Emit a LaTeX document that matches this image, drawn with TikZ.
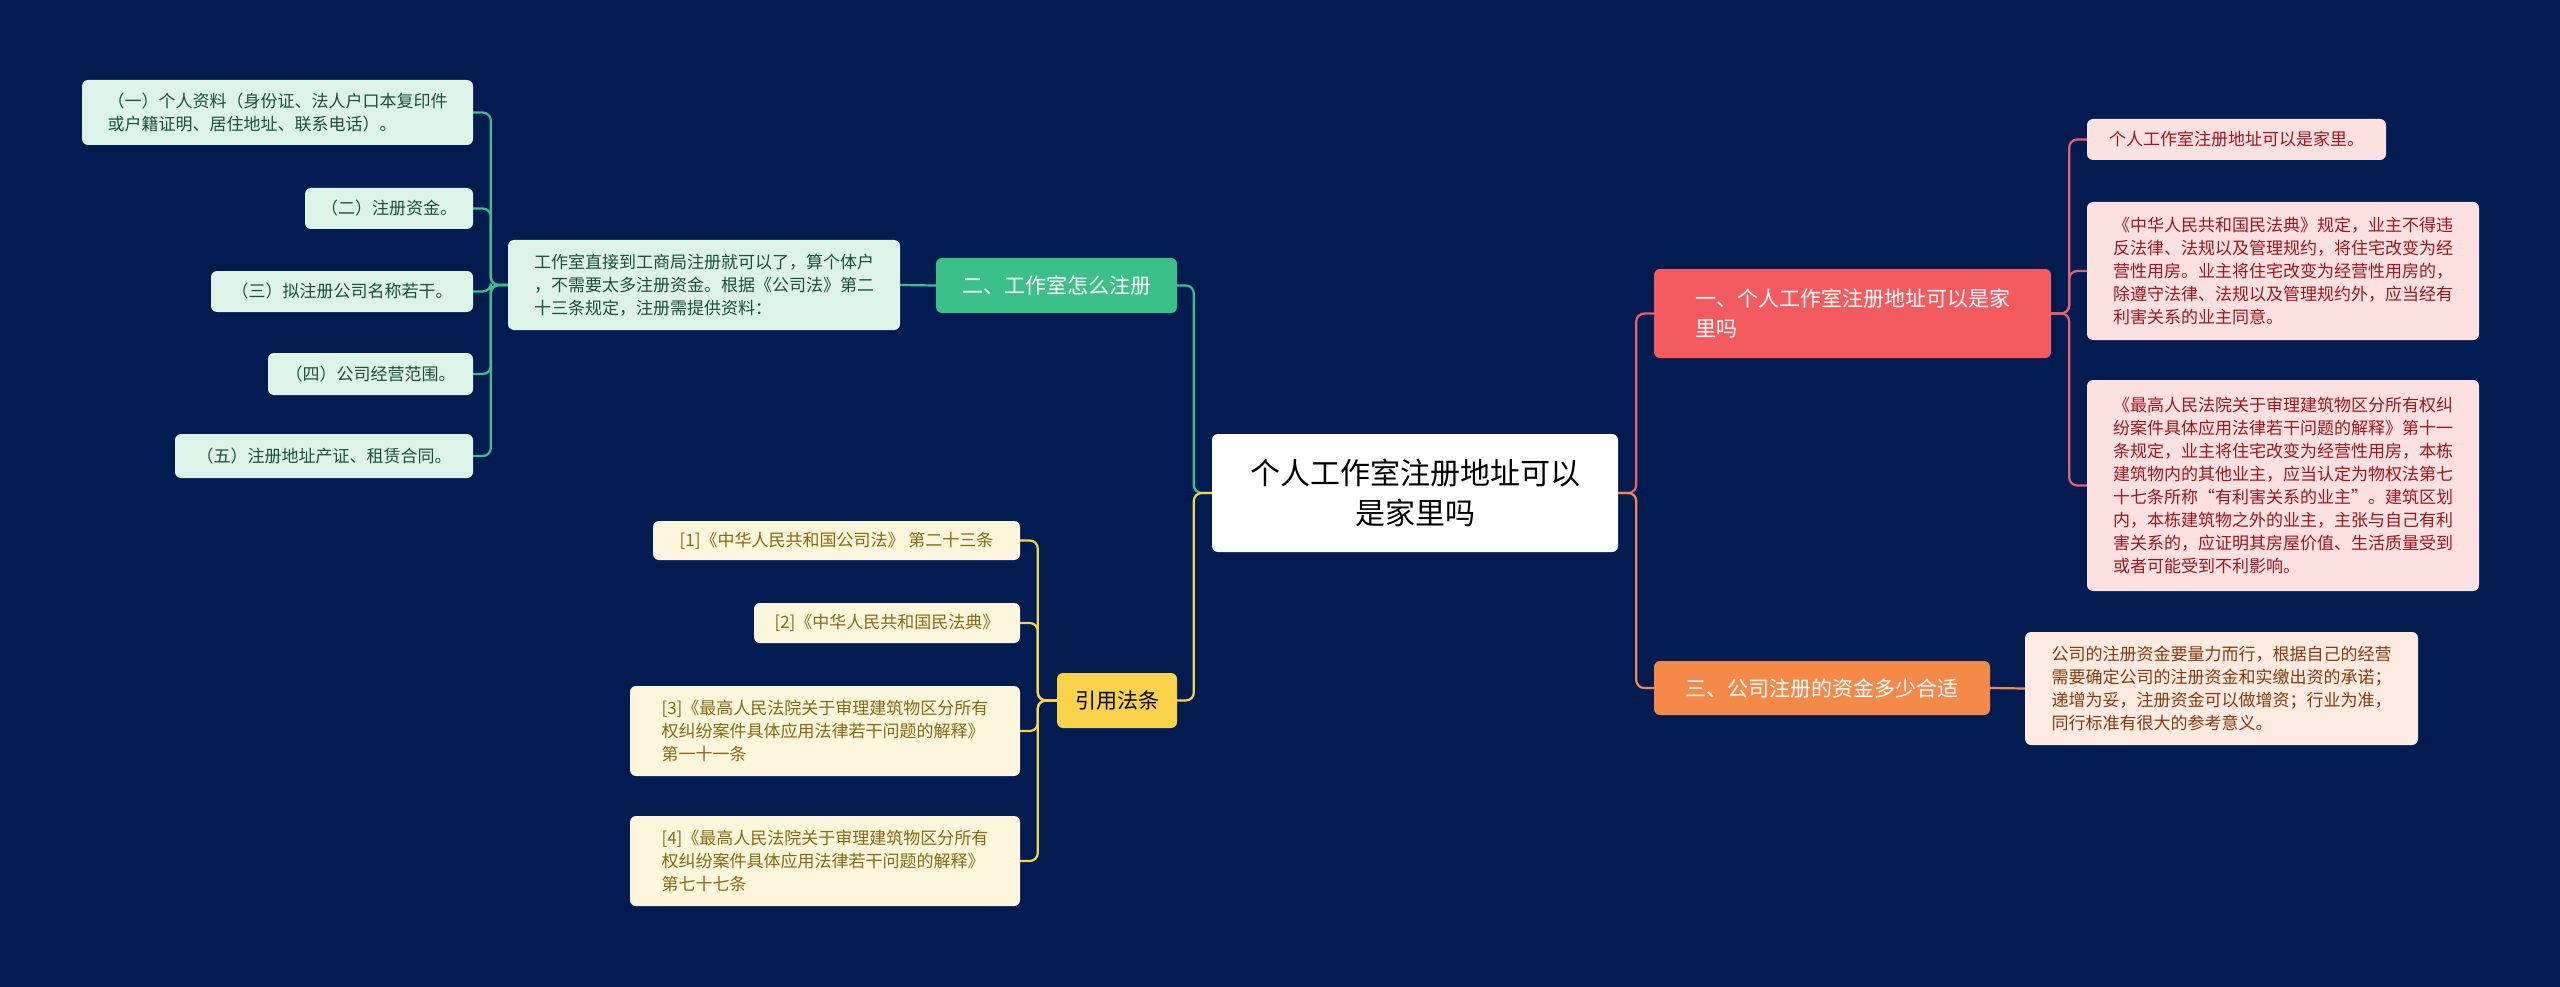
\documentclass[tikz,border=0pt]{standalone}
\usepackage{fontspec}
\setmainfont{Noto Sans CJK SC}
\definecolor{bg}{HTML}{021C52}
\definecolor{redm}{HTML}{F45B5F}\definecolor{redl}{HTML}{FDE1E1}\definecolor{redt}{HTML}{A0161C}\definecolor{redc}{HTML}{E8606A}
\definecolor{orm}{HTML}{F5894A}\definecolor{orl}{HTML}{FDEBE1}\definecolor{ort}{HTML}{8A3A10}
\definecolor{grm}{HTML}{3CC08A}\definecolor{grl}{HTML}{DDF3E8}\definecolor{grt}{HTML}{1D4F3A}
\definecolor{ylm}{HTML}{F9D34A}\definecolor{yll}{HTML}{FDF6DC}\definecolor{ylt}{HTML}{8A6A10}
\tikzset{
 box/.style={rounded corners=6pt,inner sep=0pt,align=left,font=\fontsize{17}{23}\selectfont},
 conn/.style={line width=2.2pt,rounded corners=8pt},
}
\newcommand{\bx}[7]{% name, x1,y1,x2,y2, style, text
 \node[box,#6,minimum width=#4-#2,minimum height=#5-#3] (#1) at ({(#2+#4)/2},{(#3+#5)/2}) {#7};}
\begin{document}
\begin{tikzpicture}[x=1pt,y=-1pt]
\fill[bg] (0,0) rectangle (2560,987);
\useasboundingbox (0,0) rectangle (2560,987);
\bx{c}{1212}{434}{1618}{552}{fill=white,text=black,align=center,font=\fontsize{30}{40}\selectfont}{个人工作室注册地址可以\\是家里吗}
% right branches
\bx{b1}{1654}{269}{2051}{358}{fill=redm,text=white,font=\fontsize{21}{30}\selectfont}{一、个人工作室注册地址可以是家\\里吗}
\bx{r1}{2087}{119}{2386}{160}{fill=redl,text=redt}{个人工作室注册地址可以是家里。}
\bx{r2}{2087}{202}{2479}{340}{fill=redl,text=redt}{《中华人民共和国民法典》规定，业主不得违\\反法律、法规以及管理规约，将住宅改变为经\\营性用房。业主将住宅改变为经营性用房的，\\除遵守法律、法规以及管理规约外，应当经有\\利害关系的业主同意。}
\bx{r3}{2087}{380}{2479}{591}{fill=redl,text=redt}{《最高人民法院关于审理建筑物区分所有权纠\\纷案件具体应用法律若干问题的解释》第十一\\条规定，业主将住宅改变为经营性用房，本栋\\建筑物内的其他业主，应当认定为物权法第七\\十七条所称“有利害关系的业主”。建筑区划\\内，本栋建筑物之外的业主，主张与自己有利\\害关系的，应证明其房屋价值、生活质量受到\\或者可能受到不利影响。}
\bx{b3}{1654}{661}{1990}{715}{fill=orm,text=white,font=\fontsize{21}{30}\selectfont}{三、公司注册的资金多少合适}
\bx{o1}{2025}{632}{2418}{745}{fill=orl,text=ort}{公司的注册资金要量力而行，根据自己的经营\\需要确定公司的注册资金和实缴出资的承诺；\\递增为妥，注册资金可以做增资；行业为准，\\同行标准有很大的参考意义。}
% left branches
\bx{b2}{936}{258}{1177}{313}{fill=grm,text=white,align=center,font=\fontsize{21}{30}\selectfont}{二、工作室怎么注册}
\bx{g0}{508}{240}{900}{330}{fill=grl,text=grt}{工作室直接到工商局注册就可以了，算个体户\\，不需要太多注册资金。根据《公司法》第二\\十三条规定，注册需提供资料：}
\bx{g1}{82}{80}{473}{145}{fill=grl,text=grt}{（一）个人资料（身份证、法人户口本复印件\\或户籍证明、居住地址、联系电话）。}
\bx{g2}{305}{188}{473}{229}{fill=grl,text=grt,align=center}{（二）注册资金。}
\bx{g3}{211}{271}{473}{312}{fill=grl,text=grt,align=center}{（三）拟注册公司名称若干。}
\bx{g4}{268}{353}{473}{395}{fill=grl,text=grt,align=center}{（四）公司经营范围。}
\bx{g5}{175}{434}{473}{478}{fill=grl,text=grt,align=center}{（五）注册地址产证、租赁合同。}
\bx{b4}{1057}{673}{1177}{728}{fill=ylm,text=black,align=center,font=\fontsize{21}{30}\selectfont}{引用法条}
\bx{y1}{653}{521}{1020}{560}{fill=yll,text=ylt,align=center}{[1]《中华人民共和国公司法》 第二十三条}
\bx{y2}{754}{603}{1020}{643}{fill=yll,text=ylt,align=center}{[2]《中华人民共和国民法典》}
\bx{y3}{630}{686}{1020}{776}{fill=yll,text=ylt}{[3]《最高人民法院关于审理建筑物区分所有\\权纠纷案件具体应用法律若干问题的解释》\\第一十一条}
\bx{y4}{630}{816}{1020}{906}{fill=yll,text=ylt}{[4]《最高人民法院关于审理建筑物区分所有\\权纠纷案件具体应用法律若干问题的解释》\\第七十七条}
% connectors
\foreach \n/\col in {b1/redc,b3/orm}{\draw[conn,\col] (c.east) -- ++(18,0) |- (\n.west);}
\foreach \n/\col in {b2/grm,b4/ylm}{\draw[conn,\col] (c.west) -- ++(-18,0) |- (\n.east);}
\foreach \n in {r1,r2,r3}{\draw[conn,redc] (b1.east) -- ++(18,0) |- (\n.west);}
\draw[conn,orm] (b3.east) -- (o1.west);
\draw[conn,grm] (b2.west) -- (g0.east);
\foreach \n in {g1,g2,g3,g4,g5}{\draw[conn,grm] (g0.west) -- ++(-17,0) |- (\n.east);}
\foreach \n in {y1,y2,y3,y4}{\draw[conn,ylm] (b4.west) -- ++(-19,0) |- (\n.east);}
\end{tikzpicture}
\end{document}
